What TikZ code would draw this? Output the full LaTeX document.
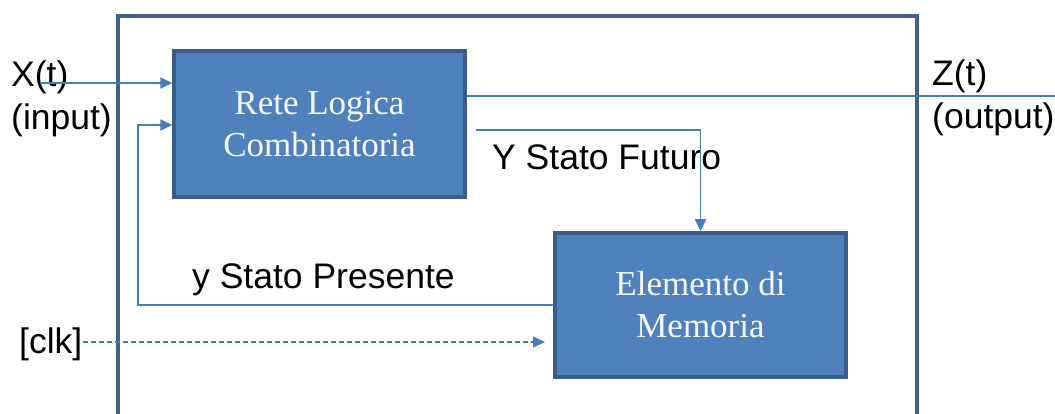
\documentclass[tikz,border=0pt]{standalone}
\usepackage{fontspec}
\setmainfont{Liberation Serif}
\newfontfamily\labelfont{Liberation Sans}
\usetikzlibrary{arrows.meta}
\definecolor{boxfill}{HTML}{4F81BD}
\definecolor{boxedge}{HTML}{385D8A}
\definecolor{wire}{HTML}{4A7EBB}
\definecolor{frame}{HTML}{3F6291}
\begin{document}
\begin{tikzpicture}[x=1pt,y=-1pt,
  block/.style={draw=boxedge, fill=boxfill, line width=3.5pt, align=center,
    text=white!94!boxfill, font=\fontsize{35}{42}\selectfont, inner sep=0pt},
  lbl/.style={font=\labelfont\fontsize{35.5}{43}\selectfont, inner sep=0pt, text=black},
  wire/.style={draw=wire, line width=1.7pt},
  tip/.style={-{Triangle[length=12pt,width=11pt]}}]
\useasboundingbox (0,0) rectangle (1055,414);
% surrounding frame of the sequential machine
\draw[frame, line width=4pt] (118,414) -- (118,16) -- (917,16) -- (917,414);
% blocks
\node[block, minimum width=291pt, minimum height=146pt] (rlc) at (319.5,124)
  {Rete Logica\\Combinatoria};
\node[block, minimum width=291pt, minimum height=144pt] (mem) at (700.5,305)
  {Elemento di\\Memoria};
% labels
\node[lbl, anchor=north west, align=left] (xlab) at (11,61) {X(t)\\(input)};
\node[lbl, anchor=north west, align=left] (zlab) at (932,60) {Z(t)\\(output)};
\node[lbl, anchor=base west] (yfut) at (492,170) {Y Stato Futuro};
\node[lbl, anchor=base west] (ypre) at (192,288) {y Stato Presente};
\node[lbl, anchor=west] (clk) at (19,344) {[clk]};
% helper points
\coordinate (xin) at (40,83);
\coordinate (fb) at (138,125);
\coordinate (yf) at (476,130);
\coordinate (zout) at (1055,96);
\coordinate (clkend) at (545,342);
% connectors
\draw[wire, tip] (xin) -- (xin -| rlc.west);
\draw[wire, tip] (mem.west) -| (fb) -- (fb -| rlc.west);
\draw[wire, tip] (yf) -| (mem.north);
\draw[wire] (zout -| rlc.east) -- (zout);
\draw[wire, tip, line width=1.4pt, dash pattern=on 5pt off 3pt] (clk.east |- clkend) -- (clkend);
\end{tikzpicture}
\end{document}
